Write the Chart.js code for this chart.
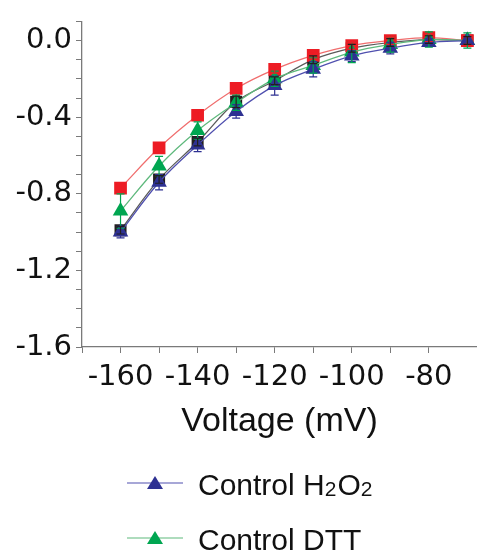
<!DOCTYPE html>
<html>
<head>
<meta charset="utf-8">
<script src="https://cdn.jsdelivr.net/npm/chart.js@4"></script>
<style>
  html, body { margin: 0; padding: 0; background: #fff; }
</style>
</head>
<body>
<canvas id="c" width="477" height="556"></canvas>
<script>
// ---- data ------------------------------------------------------------------
const VOLTAGES = [-160, -150, -140, -130, -120, -110, -100, -90, -80, -70];

const CTRL_H2O2 = [-1.00, -0.74, -0.545, -0.37, -0.235, -0.15, -0.08, -0.04, -0.01, 0.0];
const CTRL_DTT  = [-0.89, -0.655, -0.47, -0.325, -0.20, -0.13, -0.06, -0.02, 0.005, 0.0];
const RED_SET   = [-0.77, -0.56, -0.39, -0.25, -0.15, -0.077, -0.026, 0.0, 0.015, 0.0];
const BLACK_SET = [-0.99, -0.725, -0.53, -0.32, -0.21, -0.10, -0.04, -0.01, 0.005, 0.0];

const ERR_H2O2  = [0.03, 0.04, 0.035, 0.035, 0.05, 0.04, 0.03, 0.03, 0.02, 0.02];
const ERR_DTT   = [0.09, 0.05, 0.045, 0.04, 0.04, 0.04, 0.055, 0.04, 0.04, 0.04];
const ERR_RED   = [0.02, 0.02, 0.02, 0.02, 0.02, 0.02, 0.02, 0.02, 0.02, 0.02];
const ERR_BLACK = [0.02, 0.02, 0.02, 0.03, 0.02, 0.02, 0.02, 0.02, 0.02, 0.02];

const X_TICK_LABELS = [-160, -140, -120, -100, -80];
const Y_TICK_LABELS = [0.0, -0.4, -0.8, -1.2, -1.6];

// ---- styles ----------------------------------------------------------------
const SANS  = '"Liberation Sans", Arial, sans-serif';
const TICKF = '"DejaVu Sans", sans-serif';
const AXIS  = '#7a7a7a';

function pts(ys) { return VOLTAGES.map((x, i) => ({ x, y: ys[i] })); }

function series(label, ys, errs, marker, lineColor, fill, size) {
  return {
    label, data: pts(ys), errors: errs,
    borderColor: lineColor, borderWidth: 1.3,
    pointStyle: marker, pointRadius: size,
    pointBackgroundColor: fill, pointBorderColor: fill, pointBorderWidth: 0,
    errColor: fill, tension: 0.35, fill: false,
  };
}

// error bars drawn through the y scale
const errorBars = {
  id: 'errorBars',
  afterDatasetsDraw(chart) {
    const ctx = chart.ctx, ys = chart.scales.y;
    chart.data.datasets.forEach((d, i) => {
      if (!d.errors) return;
      const meta = chart.getDatasetMeta(i);
      ctx.save();
      ctx.strokeStyle = d.errColor;
      ctx.lineWidth = 1.2;
      meta.data.forEach((p, j) => {
        const v = d.data[j].y, e = d.errors[j];
        const t = ys.getPixelForValue(v + e), b = ys.getPixelForValue(v - e);
        ctx.beginPath();
        ctx.moveTo(p.x, t); ctx.lineTo(p.x, b);
        ctx.moveTo(p.x - 4, t); ctx.lineTo(p.x + 4, t);
        ctx.moveTo(p.x - 4, b); ctx.lineTo(p.x + 4, b);
        ctx.stroke();
      });
      ctx.restore();
    });
  }
};

// legend at the bottom (two visible entries, with subscripts)
const LEGEND_ITEMS = [
  { parts: [['Control H', 0], ['2', 1], ['O', 0], ['2', 1]], ds: 0 },
  { parts: [['Control DTT', 0]], ds: 1 },
];
const bottomLegend = {
  id: 'bottomLegend',
  afterDraw(chart) {
    const ctx = chart.ctx;
    LEGEND_ITEMS.forEach((it, k) => {
      const d = chart.data.datasets[it.ds];
      const base = 495 + k * 55;
      const ly = base - 12;
      ctx.save();
      ctx.strokeStyle = d.borderColor;
      ctx.lineWidth = 1.2;
      ctx.beginPath(); ctx.moveTo(127, ly); ctx.lineTo(183, ly); ctx.stroke();
      ctx.fillStyle = d.pointBackgroundColor;
      ctx.beginPath();
      ctx.moveTo(155, ly - 7); ctx.lineTo(163, ly + 6); ctx.lineTo(147, ly + 6);
      ctx.closePath(); ctx.fill();
      let x = 198;
      ctx.fillStyle = '#111';
      ctx.textBaseline = 'alphabetic';
      it.parts.forEach(([txt, sub]) => {
        ctx.font = (sub ? '21px ' : '30px ') + SANS;
        ctx.fillText(txt, x, base + (sub ? 1 : 0));
        x += ctx.measureText(txt).width + (sub ? 1 : 0);
      });
      ctx.restore();
    });
  }
};

function isMultiple(v, step) {
  const r = v / step;
  return Math.abs(r - Math.round(r)) < 1e-6;
}

new Chart(document.getElementById('c'), {
  type: 'line',
  data: {
    datasets: [
      series('Control H2O2', CTRL_H2O2, ERR_H2O2, 'triangle', 'rgb(80,80,175)', '#2e3192', 9),
      series('Control DTT', CTRL_DTT, ERR_DTT, 'triangle', 'rgb(95,185,125)', '#00a651', 9),
      series('Red', RED_SET, ERR_RED, 'rect', 'rgb(240,110,110)', '#ed1c24', 9),
      series('Black', BLACK_SET, ERR_BLACK, 'rect', 'rgb(90,90,90)', '#231f20', 8.5),
    ],
  },
  options: {
    responsive: false,
    animation: false,
    layout: { autoPadding: false, padding: { top: 16, left: 0, right: 0, bottom: 0 } },
    plugins: { legend: { display: false }, tooltip: { enabled: false } },
    scales: {
      x: {
        type: 'linear', min: -170, max: -67.5,
        afterBuildTicks(s) { s.ticks = s.ticks.filter(t => isMultiple(t.value, 10)); },
        afterFit(s) { s.height = 209; s.paddingLeft = 0; s.paddingRight = 0; },
        ticks: {
          stepSize: 10, autoSkip: false, maxRotation: 0, padding: 7, color: '#111',
          font: { size: 29, family: TICKF },
          callback: v => X_TICK_LABELS.some(l => Math.abs(l - v) < 1e-6) ? String(v) : '',
        },
        grid: { drawOnChartArea: false, drawTicks: true, tickLength: 6, color: AXIS, tickColor: AXIS },
        border: { display: true, color: AXIS, width: 1.3 },
        title: {
          display: true, text: 'Voltage (mV)', color: '#111',
          font: { size: 34, family: SANS, lineHeight: 1.2 },
          padding: { top: 0, bottom: 114 },
        },
      },
      y: {
        type: 'linear', min: -1.6, max: 0.1,
        afterFit(s) { s.width = 82; },
        ticks: {
          stepSize: 0.1, autoSkip: false, padding: 4, color: '#111',
          font: { size: 29, family: TICKF },
          callback: v => {
            const hit = Y_TICK_LABELS.find(l => Math.abs(l - v) < 1e-6);
            return hit === undefined ? '' : (Math.abs(hit) < 1e-9 ? '0.0' : hit.toFixed(1));
          },
        },
        grid: { drawOnChartArea: false, drawTicks: true, tickLength: 6, color: AXIS, tickColor: AXIS },
        border: { display: true, color: AXIS, width: 1.3 },
      },
    },
  },
  plugins: [errorBars, bottomLegend],
});
</script>
</body>
</html>
